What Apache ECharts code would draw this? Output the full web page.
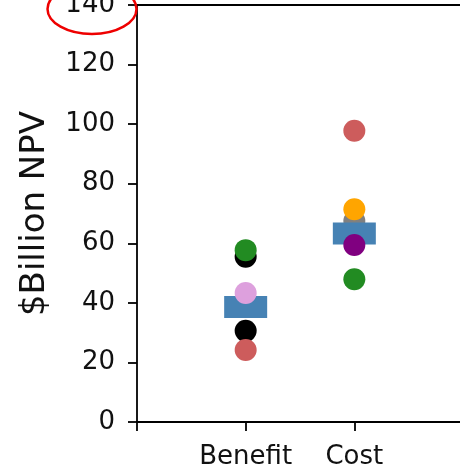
<!DOCTYPE html>
<html>
<head>
<meta charset="utf-8">
<script src="https://cdn.jsdelivr.net/npm/echarts@6/dist/echarts.min.js"></script>
<style>html,body{margin:0;padding:0;background:#fff}#c{width:460px;height:469px}</style>
</head>
<body>
<div id="c"></div>
<script>
const categories = ['Benefit', 'Cost'];
const yTicks = [0, 20, 40, 60, 80, 100, 120, 140];
const meanValues = [38.6, 63.3];
const blackValuesA = [55.5, null];
const blackValuesB = [30.6, null];
const grayValues = [null, 67.5];
const greenValues = [57.7, 47.9];
const plumValues = [43.3, null];
const redValues = [24.2, 97.8];
const orangeValues = [null, 71.4];
const purpleValues = [null, 59.4];

function toPoints(vals) {
  const out = [];
  vals.forEach((v, i) => { if (v !== null) out.push([i + 1, v]); });
  return out;
}
function dots(name, vals, color) {
  return {
    name: name, type: 'scatter', data: toPoints(vals),
    symbol: 'circle', symbolSize: 22,
    itemStyle: { color: color, opacity: 1 },
    emphasis: { disabled: true }, animation: false
  };
}

const chart = echarts.init(document.getElementById('c'), null, { renderer: 'canvas' });
const font = 'DejaVu Sans';
const lineCol = '#000';
chart.setOption({
  animation: false,
  grid: { left: 137, top: 5, right: -3, bottom: 47, outerBoundsMode: 'none', containLabel: false, show: false },
  xAxis: [{
    type: 'value', min: 0, max: 3, interval: 1,
    axisLine: { show: true, lineStyle: { color: lineCol, width: 1.8 } },
    axisTick: { show: true, length: 9, lineStyle: { color: lineCol, width: 1.8 } },
    splitLine: { show: false },
    axisLabel: {
      fontFamily: font, fontSize: 26, color: '#111', margin: 22,
      formatter: v => categories[v - 1] || ''
    }
  }, {
    type: 'value', position: 'top', min: 0, max: 3, interval: 1,
    axisLine: { show: true, lineStyle: { color: lineCol, width: 1.8 } },
    axisTick: { show: false }, axisLabel: { show: false }, splitLine: { show: false }
  }],
  yAxis: {
    type: 'value', min: yTicks[0], max: yTicks[yTicks.length - 1], interval: 20,
    name: '$Billion NPV', nameLocation: 'middle', nameGap: 85,
    nameTextStyle: { fontFamily: font, fontSize: 34, color: '#111' },
    axisLine: { show: true, lineStyle: { color: lineCol, width: 1.8 } },
    axisTick: { show: true, length: 9, lineStyle: { color: lineCol, width: 1.8 } },
    splitLine: { show: false },
    axisLabel: { fontFamily: font, fontSize: 26, color: '#111', margin: 22 }
  },
  graphic: [{
    type: 'ellipse', shape: { cx: 92, cy: 9, rx: 44.5, ry: 25 },
    style: { fill: 'none', stroke: '#ee0000', lineWidth: 2.5 }, z: 100
  }],
  series: [
    dots('black1', blackValuesA, '#000000'),
    dots('black2', blackValuesB, '#000000'),
    dots('gray', grayValues, '#808080'),
    {
      name: 'mean', type: 'scatter', data: toPoints(meanValues),
      symbol: 'rect', symbolSize: [43, 22],
      itemStyle: { color: '#4682b4', opacity: 1 },
      emphasis: { disabled: true }
    },
    dots('green', greenValues, '#228b22'),
    dots('plum', plumValues, '#dda0dd'),
    dots('red', redValues, '#cd5c5c'),
    dots('orange', orangeValues, '#ffa500'),
    dots('purple', purpleValues, '#800080')
  ]
});
</script>
</body>
</html>
